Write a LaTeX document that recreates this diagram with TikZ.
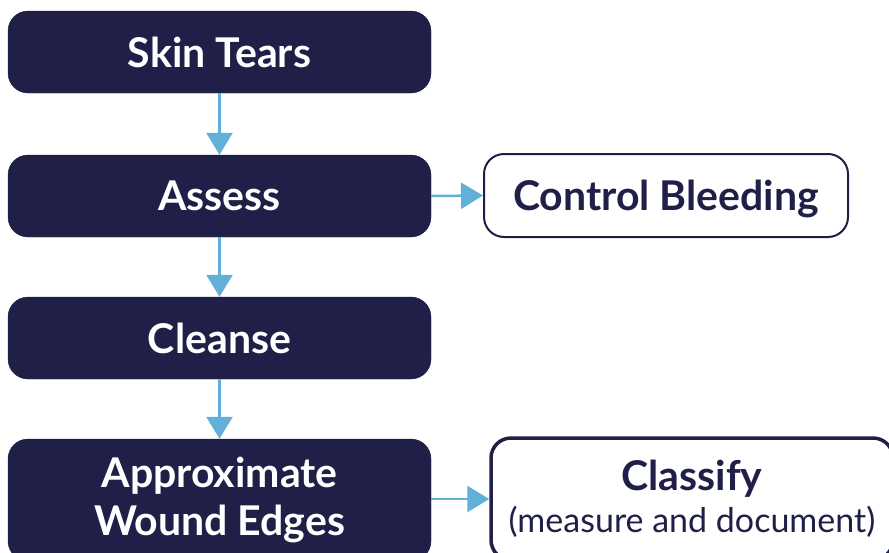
\documentclass[tikz,border=0pt]{standalone}
\usepackage{fontspec}
\setmainfont{Lato}
\usetikzlibrary{arrows.meta}
\definecolor{navy}{RGB}{31,31,72}
\definecolor{arrowblue}{RGB}{98,175,217}
\begin{document}
\begin{tikzpicture}[x=1pt,y=-1pt,
  darkbox/.style={rectangle,rounded corners=20pt,fill=navy,draw=navy,text=white,
    font=\fontsize{41}{48}\selectfont\bfseries,align=center,inner sep=0pt},
  lightbox/.style={rectangle,rounded corners=20pt,fill=white,draw=navy,text=navy,
    line width=2pt,font=\fontsize{41}{42}\selectfont\bfseries,align=center,inner sep=0pt},
  flow/.style={draw=arrowblue,line width=2.5pt,-{Triangle[width=26pt,length=22pt]}}]
\useasboundingbox (0,0) rectangle (889,552);
\clip (0,0) rectangle (889,552);
\node[darkbox,minimum width=423pt,minimum height=82pt] (st) at (219.5,52) {Skin Tears};
\node[darkbox,minimum width=423pt,minimum height=82pt] (as) at (219.5,196) {Assess};
\node[darkbox,minimum width=423pt,minimum height=82pt] (cl) at (219.5,338) {Cleanse};
\node[darkbox,minimum width=423pt,minimum height=122pt] (aw) at (219.5,500) {Approximate\\Wound Edges};
\node[lightbox,text depth=0pt,minimum width=364pt,minimum height=83pt] (cb) at (666,195.5) {Control Bleeding};
\node[lightbox,line width=3.5pt,minimum width=402pt,minimum height=122pt] (cf) at (692,499)
  {Classify\\{\fontsize{34}{42}\selectfont\mdseries (measure and document)}};
\draw[flow] (st.south) -- (as.north);
\draw[flow] (as.south) -- (cl.north);
\draw[flow] (cl.south) -- (aw.north);
\draw[flow] (as.east) -- (cb.west);
\draw[flow] (aw.east|-cf.west) -- (cf.west);
\end{tikzpicture}
\end{document}
